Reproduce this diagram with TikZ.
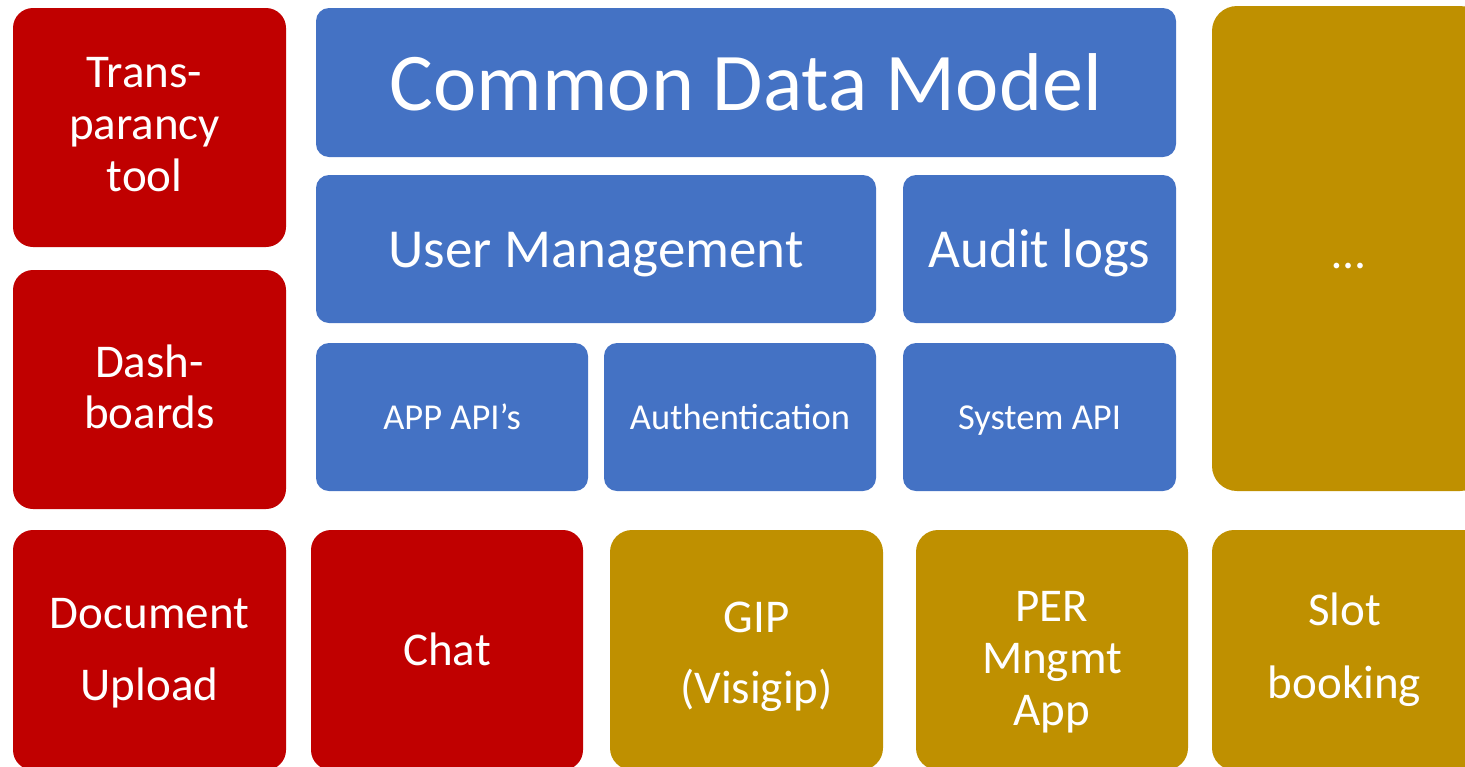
\documentclass[tikz,border=0pt]{standalone}
\usepackage{fontspec}
\setmainfont{Carlito}
\definecolor{cred}{HTML}{C00000}
\definecolor{cblue}{HTML}{4472C4}
\definecolor{cgold}{HTML}{BF9000}
\newcommand{\lstrut}{\rule[-0.27em]{0pt}{1.22em}}
\begin{document}
\begin{tikzpicture}[x=0.5pt,y=-0.5pt,
  blk/.style={inner sep=0pt, outer sep=0pt, text=white, align=center},
  redblk/.style={blk, fill=cred, rounded corners=10pt, font=\fontsize{23.5}{26}\selectfont},
  goldblk/.style={blk, fill=cgold, rounded corners=11pt, font=\fontsize{23.5}{26}\selectfont},
  blueblk/.style={blk, fill=cblue, rounded corners=6.5pt},
  bigtxt/.style={font=\fontsize{41}{48}\selectfont},
  midtxt/.style={font=\fontsize{27.5}{33}\selectfont},
  smalltxt/.style={font=\fontsize{18.25}{22}\selectfont},
  wide/.style={minimum width=136.5pt},
  tall/.style={minimum height=119.5pt},
  bottom/.style={minimum height=120pt},
  bluerow/.style={minimum height=74pt}]
\useasboundingbox (0,0) rectangle (1465,766);
\clip (0,0) rectangle (1465,766);
% red column
\node[redblk, wide, tall] (trans) at (149.5,127.5)
  {\hspace*{-5pt}Trans-\\\hspace*{-5pt}parancy\\\hspace*{-5pt}tool\rule[-3pt]{0pt}{0pt}};
\node[redblk, wide, tall, font=\fontsize{23.5}{25.5}\selectfont] (dash) at (149.5,389.5)
  {Dash-\\boards\rule[-3pt]{0pt}{0pt}};
% bottom row
\node[redblk, wide, bottom, font=\fontsize{23.5}{36}\selectfont] (doc) at (149.5,650)
  {\rule{0pt}{18pt}Document\\Upload};
\node[redblk, minimum width=136pt, bottom] (chat) at (447,650) {\lstrut Chat};
\node[goldblk, wide, bottom, font=\fontsize{23.5}{35.5}\selectfont] (gip) at (746.5,650)
  {\rule{0pt}{22pt}\hspace*{10pt}GIP\\\hspace*{10pt}(Visigip)};
\node[goldblk, minimum width=136pt, bottom] (per) at (1052,650)
  {\rule{0pt}{27pt}PER\\Mngmt\\App};
\node[goldblk, wide, bottom, font=\fontsize{23.5}{36.5}\selectfont] (slot) at (1348.5,650)
  {\hspace*{-4pt}Slot\\\hspace*{-4pt}booking};
% right column
\node[goldblk, wide, minimum height=242.5pt, rounded corners=12.5pt] (dots) at (1348.5,248.5)
  {\rule[-0.27em]{0pt}{\dimexpr1.22em+4pt\relax}…};
% blue stack
\node[blueblk, bigtxt, minimum width=430pt, minimum height=74.5pt] (cdm) at (746,82.5) {\lstrut Common Data Model};
\node[blueblk, midtxt, minimum width=280pt, bluerow] (um) at (596,249) {\lstrut User Management};
\node[blueblk, midtxt, wide, bluerow] (audit) at (1039.5,249) {\lstrut Audit logs};
\node[blueblk, smalltxt, minimum width=136pt, bluerow] (app) at (452,417) {\lstrut APP API’s};
\node[blueblk, smalltxt, minimum width=136pt, bluerow] (auth) at (740,417) {\lstrut Authentication};
\node[blueblk, smalltxt, wide, bluerow] (sys) at (1039.5,417) {\lstrut System API};
\end{tikzpicture}
\end{document}
